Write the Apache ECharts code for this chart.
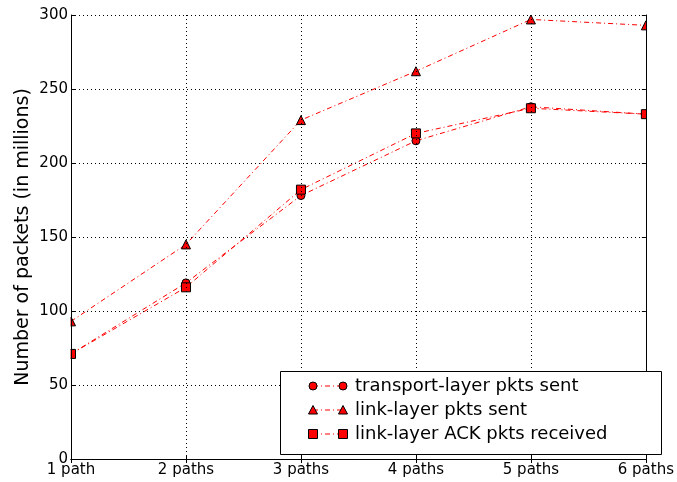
<!DOCTYPE html>
<html>
<head>
<meta charset="utf-8">
<script src="https://cdn.jsdelivr.net/npm/echarts@6/dist/echarts.min.js"></script>
<style>
  html, body { margin: 0; padding: 0; background: #fff; }
  #chart { width: 677px; height: 482px; }
</style>
</head>
<body>
<div id="chart"></div>
<script>
// Categories along the x axis
const pathCounts = ['1 path', '2 paths', '3 paths', '4 paths', '5 paths', '6 paths'];

// Packet counts, in millions
const transportSent = [71, 119, 178, 215, 238, 233];
const linkSent = [93, 145, 229, 262, 297, 293];
const linkAckReceived = [71, 116, 182, 220, 237, 233];

// Y axis ticks
const yTicks = [0, 50, 100, 150, 200, 250, 300];

const seriesNames = [
  'transport-layer pkts sent',
  'link-layer pkts sent',
  'link-layer ACK pkts received'
];

const FONT = 'DejaVu Sans';
const RED = '#ff0000';
const dashDot = [5, 3, 1, 3];

const chart = echarts.init(document.getElementById('chart'), null, { renderer: 'canvas' });

const gridL = 71, gridR = 31, gridT = 15, gridB = 23;
const W = 677, H = 482;

function lineSeries(name, data, symbol, size) {
  return {
    name: name,
    type: 'line',
    data: data,
    symbol: symbol,
    symbolSize: size,
    clip: false,
    lineStyle: { color: RED, width: 1, type: dashDot },
    itemStyle: { color: RED, borderColor: '#000', borderWidth: 1 },
    emphasis: { disabled: true },
    animation: false
  };
}

// Legend drawn as a framed box with two markers and a dash-dot stroke per entry
function legendEntry(i, shapeType) {
  const cy = 386 + i * 24;
  const x1 = 313, x2 = 343;
  const els = [{
    type: 'line',
    shape: { x1: x1, y1: cy, x2: x2, y2: cy },
    style: { stroke: RED, lineWidth: 1, lineDash: dashDot },
    z: 21
  }];
  [x1, x2].forEach(function (cx) {
    let el;
    if (shapeType === 'circle') {
      el = { type: 'circle', shape: { cx: cx, cy: cy, r: 4 } };
    } else if (shapeType === 'triangle') {
      el = { type: 'polygon', shape: { points: [[cx, cy - 4.5], [cx + 4.5, cy + 4], [cx - 4.5, cy + 4]] } };
    } else {
      el = { type: 'rect', shape: { x: cx - 4.5, y: cy - 4.5, width: 9, height: 9 } };
    }
    el.style = { fill: RED, stroke: '#000', lineWidth: 1 };
    el.z = 22;
    els.push(el);
  });
  els.push({
    type: 'text',
    x: 355, y: cy,
    style: { text: seriesNames[i], font: '18px "' + FONT + '"', fill: '#000', verticalAlign: 'middle', textAlign: 'left' },
    z: 22
  });
  return els;
}

const option = {
  backgroundColor: '#fff',
  animation: false,
  textStyle: { fontFamily: FONT },
  grid: { left: gridL, right: gridR, top: gridT, bottom: gridB, containLabel: false },
  xAxis: [{
    type: 'category',
    data: pathCounts,
    boundaryGap: false,
    position: 'bottom',
    z: 10,
    axisLine: { lineStyle: { color: '#000', width: 1 } },
    axisTick: { inside: true, length: 4, lineStyle: { color: '#000' } },
    axisLabel: { color: '#000', fontSize: 15, fontFamily: FONT, margin: 4 },
    splitLine: { show: true, lineStyle: { color: '#000', width: 1, type: [1, 3] } }
  }, {
    type: 'category',
    data: pathCounts,
    boundaryGap: false,
    position: 'top',
    z: 10,
    axisLine: { lineStyle: { color: '#000', width: 1 } },
    axisTick: { inside: true, length: 4, lineStyle: { color: '#000' } },
    axisLabel: { show: false },
    splitLine: { show: false }
  }],
  yAxis: [{
    type: 'value',
    min: yTicks[0],
    max: yTicks[yTicks.length - 1],
    interval: 50,
    position: 'left',
    z: 10,
    name: 'Number of packets (in millions)',
    nameLocation: 'middle',
    nameRotate: 90,
    nameGap: 38,
    nameMoveOverlap: false,
    nameTextStyle: { color: '#000', fontSize: 19, fontFamily: FONT },
    axisLine: { show: true, lineStyle: { color: '#000', width: 1 } },
    axisTick: { show: true, inside: true, length: 4, lineStyle: { color: '#000' } },
    axisLabel: { color: '#000', fontSize: 15, fontFamily: FONT, margin: 3 },
    splitLine: { show: true, lineStyle: { color: '#000', width: 1, type: [1, 3] } }
  }, {
    type: 'value',
    min: yTicks[0],
    max: yTicks[yTicks.length - 1],
    interval: 50,
    position: 'right',
    z: 10,
    axisLine: { show: true, lineStyle: { color: '#000', width: 1 } },
    axisTick: { show: true, inside: true, length: 4, lineStyle: { color: '#000' } },
    axisLabel: { show: false },
    splitLine: { show: false }
  }],
  graphic: [
    // white margins that trim markers sitting on the plot frame
    { type: 'rect', shape: { x: 0, y: 0, width: gridL - 0.5, height: H }, style: { fill: '#fff' }, z: 5, silent: true },
    { type: 'rect', shape: { x: W - gridR + 0.5, y: 0, width: gridR, height: H }, style: { fill: '#fff' }, z: 5, silent: true },
    { type: 'rect', shape: { x: 0, y: 0, width: W, height: gridT - 0.5 }, style: { fill: '#fff' }, z: 5, silent: true },
    { type: 'rect', shape: { x: 0, y: H - gridB + 0.5, width: W, height: gridB }, style: { fill: '#fff' }, z: 5, silent: true },
    // legend frame
    { type: 'rect', shape: { x: 280.5, y: 371.5, width: 381, height: 83 }, style: { fill: '#fff', stroke: '#000', lineWidth: 1 }, z: 20 }
  ].concat(legendEntry(0, 'circle'), legendEntry(1, 'triangle'), legendEntry(2, 'rect')),
  series: [
    lineSeries(seriesNames[0], transportSent, 'circle', 8),
    lineSeries(seriesNames[1], linkSent, 'triangle', 9),
    lineSeries(seriesNames[2], linkAckReceived, 'rect', 9)
  ]
};

chart.setOption(option);
</script>
</body>
</html>
